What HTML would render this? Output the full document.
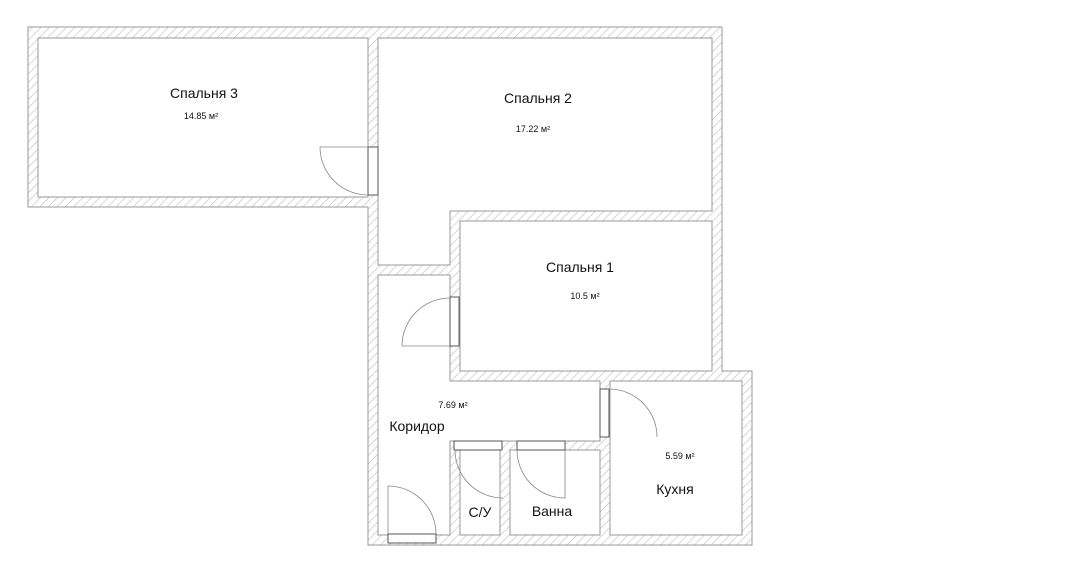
<!DOCTYPE html>
<html><head><meta charset="utf-8"><style>
html,body{margin:0;padding:0;background:#fff;}
svg{display:block;}
text{font-family:"Liberation Sans","DejaVu Sans",sans-serif;fill:#111;}
</style></head><body>
<svg width="1080" height="570" viewBox="0 0 1080 570" xmlns="http://www.w3.org/2000/svg">
<defs>
<pattern id="h" width="6" height="6" patternUnits="userSpaceOnUse" patternTransform="rotate(45)">
<rect width="6" height="6" fill="#fff"/>
<line x1="0" y1="0" x2="0" y2="6" stroke="#bdbdbd" stroke-width="1.2"/>
</pattern>
</defs>
<rect width="1080" height="570" fill="#fff"/>
<polygon points="28,27 722,27 722,371 752,371 752,545 368,545 368,207 28,207" fill="url(#h)" stroke="#999" stroke-width="1"/>
<g fill="#fff" stroke="#999" stroke-width="1">
<rect x="38" y="38" width="330" height="159"/>
<polygon points="378,38 712,38 712,211 450,211 450,265 378,265"/>
<rect x="460" y="221" width="252" height="150"/>
<polygon points="378,275 450,275 450,381 600,381 600,441 450,441 450,535 378,535"/>
<rect x="460" y="450" width="40" height="85"/>
<rect x="510" y="450" width="90" height="85"/>
<rect x="610" y="381" width="132" height="154"/>
</g>
<g fill="#fff" stroke="#555" stroke-width="1">
<rect x="368" y="147" width="10" height="48"/>
<rect x="450" y="297" width="9" height="49"/>
<rect x="600" y="389" width="9" height="48"/>
<rect x="454" y="441" width="48" height="9"/>
<rect x="517" y="441" width="48" height="9"/>
<rect x="388" y="534" width="48" height="9"/>
</g>
<g fill="none" stroke="#888" stroke-width="0.8">
<path d="M320,147 L368,147 M320,147 A48,48 0 0 0 368,195"/>
<path d="M402,346 L450,346 M402,346 A48,48 0 0 1 450,298"/>
<path d="M609,389 A48,48 0 0 1 657,437"/>
<path d="M455,450 A48,48 0 0 0 503,498"/>
<path d="M517,450 A48,48 0 0 0 565,498 L565,450"/>
<path d="M388,534 L388,486 A48,48 0 0 1 436,534"/>
</g>
<g text-anchor="middle">
<text x="204" y="98" font-size="14">Спальня 3</text>
<text x="201" y="119" font-size="9">14.85 м²</text>
<text x="538" y="103" font-size="14">Спальня 2</text>
<text x="533" y="132" font-size="9">17.22 м²</text>
<text x="580" y="272" font-size="14">Спальня 1</text>
<text x="585" y="299" font-size="9">10.5 м²</text>
<text x="453" y="408" font-size="9">7.69 м²</text>
<text x="417" y="431" font-size="14">Коридор</text>
<text x="680" y="459" font-size="9">5.59 м²</text>
<text x="675" y="494" font-size="14">Кухня</text>
<text x="480" y="517" font-size="14">С/У</text>
<text x="552" y="516" font-size="14">Ванна</text>
</g>
</svg>
</body></html>
